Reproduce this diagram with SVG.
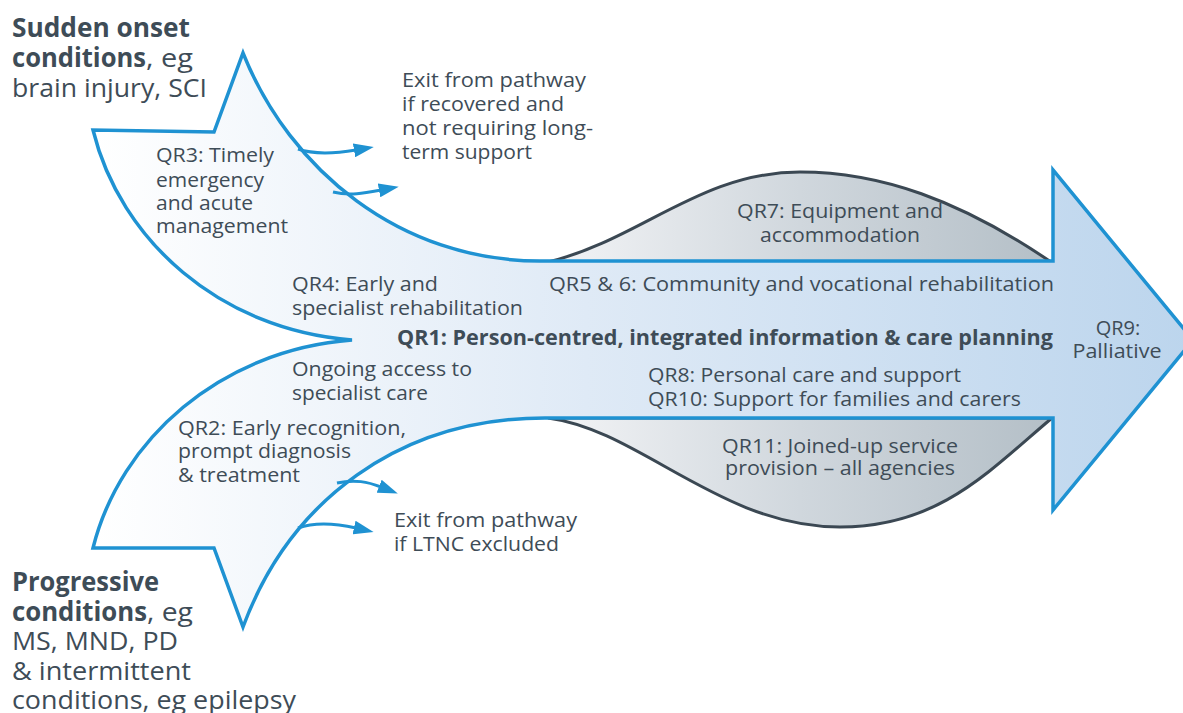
<svg xmlns="http://www.w3.org/2000/svg" width="1183" height="713" viewBox="0 0 1183 713">
<style>
.t{font-family:"Open Sans","Noto Sans","Liberation Sans",sans-serif;font-size:20px;fill:#3e4c57}
.h{font-family:"Open Sans","Noto Sans","Liberation Sans",sans-serif;font-size:26px;fill:#3e4c57}
.b{font-weight:bold}
.c{text-anchor:middle}
.lobe{fill:url(#gGray);stroke:#3b4853;stroke-width:3}
.main{fill:url(#gBlue);stroke:#1f92d2;stroke-width:3.5;stroke-linejoin:miter}
.exit{fill:none;stroke:#1f92d2;stroke-width:3;marker-end:url(#ah)}
</style>
<defs>
<linearGradient id="gBlue" gradientUnits="userSpaceOnUse" x1="93" y1="0" x2="1190" y2="0">
<stop offset="0" stop-color="#ffffff"/>
<stop offset="0.45" stop-color="#dfeaf6"/>
<stop offset="1" stop-color="#bcd5ed"/>
</linearGradient>
<linearGradient id="gGray" gradientUnits="userSpaceOnUse" x1="548" y1="0" x2="1052" y2="0">
<stop offset="0" stop-color="#f3f4f6"/>
<stop offset="0.5" stop-color="#d0d7dd"/>
<stop offset="1" stop-color="#b4bfc7"/>
</linearGradient>
<marker id="ah" markerUnits="userSpaceOnUse" markerWidth="22" markerHeight="14" refX="2" refY="7" orient="auto">
<path d="M0,0 L20,7 L0,14 Z" fill="#1f92d2"/>
</marker>
</defs>

<g id="lobe-top">
<path class="lobe" d="M548,262 C640,240 700,172 800,172 C880,172 960,200 1051,262 Z"/>
</g>
<g id="lobe-bottom">
<path class="lobe" d="M548,418 C640,430 720,527 840,527 C940,527 990,470 1052,418 Z"/>
</g>

<g id="main-arrow">
<path class="main" d="M243,53 C290,170 400,261 540,261 L1053,261 L1053,170 L1193,340 L1053,510 L1053,418 L545,418 C400,418 290,500 243,627 L214,548 L93,548 C120,440 220,350 352,340 C220,330 120,240 93,130 L214,132 Z"/>
</g>

<g id="connectors">
<path class="exit" d="M298,149 C315,155 338,153 356,150"/>
<path class="exit" d="M333,192 C350,196 365,193 381,190"/>
<path class="exit" d="M337,483 C355,479 368,482 381,487"/>
<path class="exit" d="M298,528 C315,522 338,524 356,528"/>
</g>

<g id="sudden-onset">
<text class="h b" x="12" y="37" textLength="178" lengthAdjust="spacingAndGlyphs">Sudden onset</text>
<text class="h b" x="12" y="67" textLength="134" lengthAdjust="spacingAndGlyphs">conditions</text>
<text class="h" x="146" y="67" textLength="47" lengthAdjust="spacingAndGlyphs">, eg</text>
<text class="h" x="12" y="97" textLength="195" lengthAdjust="spacingAndGlyphs">brain injury, SCI</text>
</g>

<g id="progressive">
<text class="h b" x="12" y="591" textLength="147" lengthAdjust="spacingAndGlyphs">Progressive</text>
<text class="h b" x="12" y="621" textLength="135" lengthAdjust="spacingAndGlyphs">conditions</text>
<text class="h" x="147" y="621" textLength="46" lengthAdjust="spacingAndGlyphs">, eg</text>
<text class="h" x="12" y="650" textLength="166" lengthAdjust="spacingAndGlyphs">MS, MND, PD</text>
<text class="h" x="12" y="680" textLength="179" lengthAdjust="spacingAndGlyphs">&amp; intermittent</text>
<text class="h" x="12" y="709" textLength="284" lengthAdjust="spacingAndGlyphs">conditions, eg epilepsy</text>
</g>

<g id="exit-top">
<text class="t" x="402" y="87" textLength="184" lengthAdjust="spacingAndGlyphs">Exit from pathway</text>
<text class="t" x="402" y="111" textLength="162" lengthAdjust="spacingAndGlyphs">if recovered and</text>
<text class="t" x="402" y="135" textLength="191" lengthAdjust="spacingAndGlyphs">not requiring long-</text>
<text class="t" x="402" y="159" textLength="130" lengthAdjust="spacingAndGlyphs">term support</text>
</g>

<g id="qr3">
<text class="t" x="156" y="162" textLength="118" lengthAdjust="spacingAndGlyphs">QR3: Timely</text>
<text class="t" x="156" y="187" textLength="108" lengthAdjust="spacingAndGlyphs">emergency</text>
<text class="t" x="156" y="210" textLength="97" lengthAdjust="spacingAndGlyphs">and acute</text>
<text class="t" x="156" y="233" textLength="132" lengthAdjust="spacingAndGlyphs">management</text>
</g>

<g id="qr7">
<text class="t" x="737" y="218" textLength="206" lengthAdjust="spacingAndGlyphs">QR7: Equipment and</text>
<text class="t" x="760" y="242" textLength="160" lengthAdjust="spacingAndGlyphs">accommodation</text>
</g>

<g id="qr4">
<text class="t" x="292" y="291" textLength="146" lengthAdjust="spacingAndGlyphs">QR4: Early and</text>
<text class="t" x="292" y="315" textLength="231" lengthAdjust="spacingAndGlyphs">specialist rehabilitation</text>
</g>

<g id="qr5-6">
<text class="t" x="549" y="291" textLength="505" lengthAdjust="spacingAndGlyphs">QR5 &amp; 6: Community and vocational rehabilitation</text>
</g>

<g id="qr1">
<text class="t b" x="397" y="345" style="font-size:21.5px" textLength="656" lengthAdjust="spacingAndGlyphs">QR1: Person-centred, integrated information &amp; care planning</text>
</g>

<g id="qr9">
<text class="t c" x="1118" y="335">QR9:</text>
<text class="t c" x="1117" y="358" textLength="89" lengthAdjust="spacingAndGlyphs">Palliative</text>
</g>

<g id="ongoing">
<text class="t" x="292" y="376" textLength="180" lengthAdjust="spacingAndGlyphs">Ongoing access to</text>
<text class="t" x="292" y="400" textLength="136" lengthAdjust="spacingAndGlyphs">specialist care</text>
</g>

<g id="qr8-10">
<text class="t" x="648" y="382" textLength="313" lengthAdjust="spacingAndGlyphs">QR8: Personal care and support</text>
<text class="t" x="648" y="406" textLength="373" lengthAdjust="spacingAndGlyphs">QR10: Support for families and carers</text>
</g>

<g id="qr2">
<text class="t" x="178" y="435" textLength="228" lengthAdjust="spacingAndGlyphs">QR2: Early recognition,</text>
<text class="t" x="178" y="458" textLength="173" lengthAdjust="spacingAndGlyphs">prompt diagnosis</text>
<text class="t" x="178" y="482" textLength="122" lengthAdjust="spacingAndGlyphs">&amp; treatment</text>
</g>

<g id="qr11">
<text class="t" x="722" y="453" textLength="236" lengthAdjust="spacingAndGlyphs">QR11: Joined-up service</text>
<text class="t" x="725" y="475" textLength="230" lengthAdjust="spacingAndGlyphs">provision – all agencies</text>
</g>

<g id="exit-bottom">
<text class="t" x="394" y="527" textLength="183" lengthAdjust="spacingAndGlyphs">Exit from pathway</text>
<text class="t" x="394" y="551" textLength="165" lengthAdjust="spacingAndGlyphs">if LTNC excluded</text>
</g>
</svg>
